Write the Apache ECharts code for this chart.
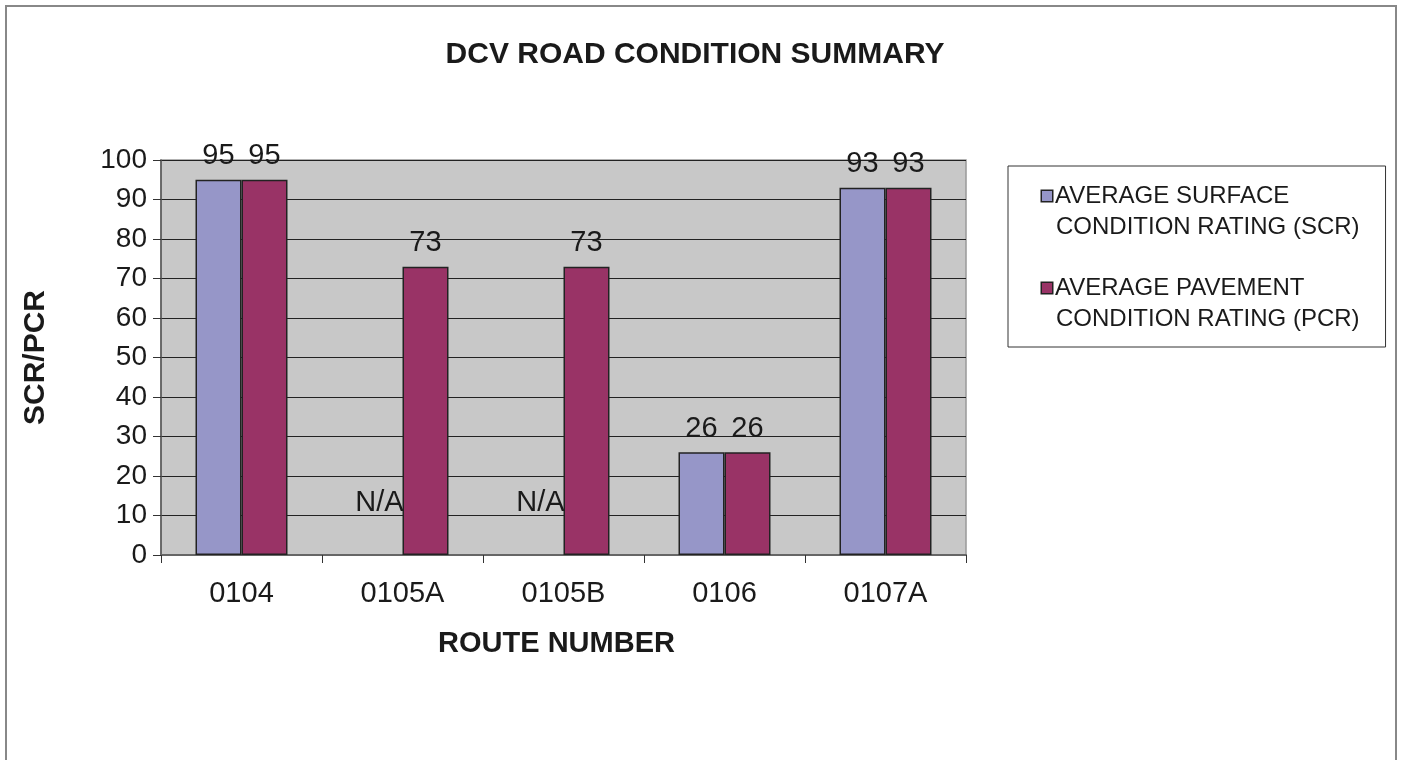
<!DOCTYPE html>
<html>
<head>
<meta charset="utf-8">
<script src="https://cdn.jsdelivr.net/npm/echarts@6/dist/echarts.min.js"></script>
<style>
	html,body{margin:0;padding:0;background:#fff;overflow:hidden;}
	#chart{width:1401px;height:760px;}
	#frame{position:absolute;left:5px;top:5px;width:1392px;height:800px;border:2px solid #888;box-sizing:border-box;pointer-events:none;}
</style>
</head>
<body>
<div id="chart"></div>
<div id="frame"></div>
<script>
// 数据
var routes = ['0104', '0105A', '0105B', '0106', '0107A'];
var scrValues = [95, 'N/A', 'N/A', 26, 93];
var pcrValues = [95, 73, 73, 26, 93];
var yTicks = [0, 10, 20, 30, 40, 50, 60, 70, 80, 90, 100];
var scrName = 'AVERAGE SURFACE\nCONDITION RATING (SCR)';
var pcrName = 'AVERAGE PAVEMENT\nCONDITION RATING (PCR)';

var scrColor = '#9696c8';
var pcrColor = '#993366';
var font = 'Liberation Sans, Arial, sans-serif';

// N/A 的项目画成不可见的 0 值柱子，只留标签
var scrData = scrValues.map(function(v){
	if (v === 'N/A') {
		return {
			value: 0,
			itemStyle: {color: 'rgba(0,0,0,0)', borderWidth: 0},
			label: {formatter: 'N/A', distance: 38}
		};
	}
	return v;
});

var chart = echarts.init(document.getElementById('chart'));
var option = {
	animation: false,
	textStyle: {fontFamily: font},
	title: {
		text: 'DCV ROAD CONDITION SUMMARY',
		left: 690,
		top: 35,
		textAlign: 'center',
		textStyle: {fontFamily: font, fontSize: 30, fontWeight: 'bold', color: '#1a1a1a'}
	},
	legend: {
		orient: 'vertical',
		left: 1008,
		top: 166,
		padding: [18, 26, 16, 28],
		itemGap: 37,
		itemWidth: 0,
		itemHeight: 0,
		itemStyle: {opacity: 0},
		borderColor: '#333',
		borderWidth: 1,
		data: [scrName, pcrName],
		formatter: function(name){
			var key = name === scrName ? 'a' : 'b';
			var lines = name.split('\n');
			return '{' + key + '|}{t|' + lines[0] + '}\n{s|}{t|' + lines[1] + '}';
		},
		textStyle: {
			fontFamily: font,
			fontSize: 24,
			color: '#1a1a1a',
			rich: {
				a: {width: 10, height: 10, backgroundColor: scrColor, borderColor: '#222', borderWidth: 1.5},
				b: {width: 10, height: 10, backgroundColor: pcrColor, borderColor: '#222', borderWidth: 1.5},
				s: {width: 11, height: 10},
				t: {fontFamily: font, fontSize: 24, color: '#1a1a1a', lineHeight: 31, padding: [0, 0, 0, 3]}
			}
		}
	},
	grid: {
		left: 161,
		right: 435,
		top: 160,
		bottom: 205,
		show: true,
		backgroundColor: '#c8c8c8',
		borderColor: '#999',
		borderWidth: 1.5
	},
	xAxis: {
		type: 'category',
		data: routes,
		name: 'ROUTE NUMBER',
		nameLocation: 'middle',
		nameGap: 74,
		nameTextStyle: {fontFamily: font, fontSize: 29, fontWeight: 'bold', color: '#1a1a1a', padding: [0, 14, 0, 0]},
		axisLine: {lineStyle: {color: '#666', width: 2}},
		axisTick: {show: true, length: 8, lineStyle: {color: '#333'}},
		axisLabel: {fontFamily: font, fontSize: 29, color: '#1a1a1a', margin: 24}
	},
	yAxis: {
		type: 'value',
		min: yTicks[0],
		max: yTicks[yTicks.length - 1],
		interval: yTicks[1] - yTicks[0],
		name: 'SCR/PCR',
		nameLocation: 'middle',
		nameGap: 110,
		nameRotate: 90,
		nameTextStyle: {fontFamily: font, fontSize: 30, fontWeight: 'bold', color: '#1a1a1a'},
		axisLine: {show: true, lineStyle: {color: '#555', width: 1.5}},
		axisTick: {show: true, length: 8, lineStyle: {color: '#333'}},
		axisLabel: {fontFamily: font, fontSize: 28, color: '#1a1a1a', margin: 14},
		splitLine: {lineStyle: {color: '#222', width: 1.2}}
	},
	series: [{
		name: scrName,
		type: 'bar',
		data: scrData,
		barWidth: 46,
		barGap: '0%',
		itemStyle: {color: scrColor, borderColor: '#222', borderWidth: 1.5},
		label: {show: true, position: 'top', distance: 9, fontFamily: font, fontSize: 29, color: '#1a1a1a'}
	}, {
		name: pcrName,
		type: 'bar',
		data: pcrValues,
		barWidth: 46,
		barGap: '0%',
		itemStyle: {color: pcrColor, borderColor: '#222', borderWidth: 1.5},
		label: {show: true, position: 'top', distance: 9, fontFamily: font, fontSize: 29, color: '#1a1a1a'}
	}]
};
chart.setOption(option);
</script>
</body>
</html>
